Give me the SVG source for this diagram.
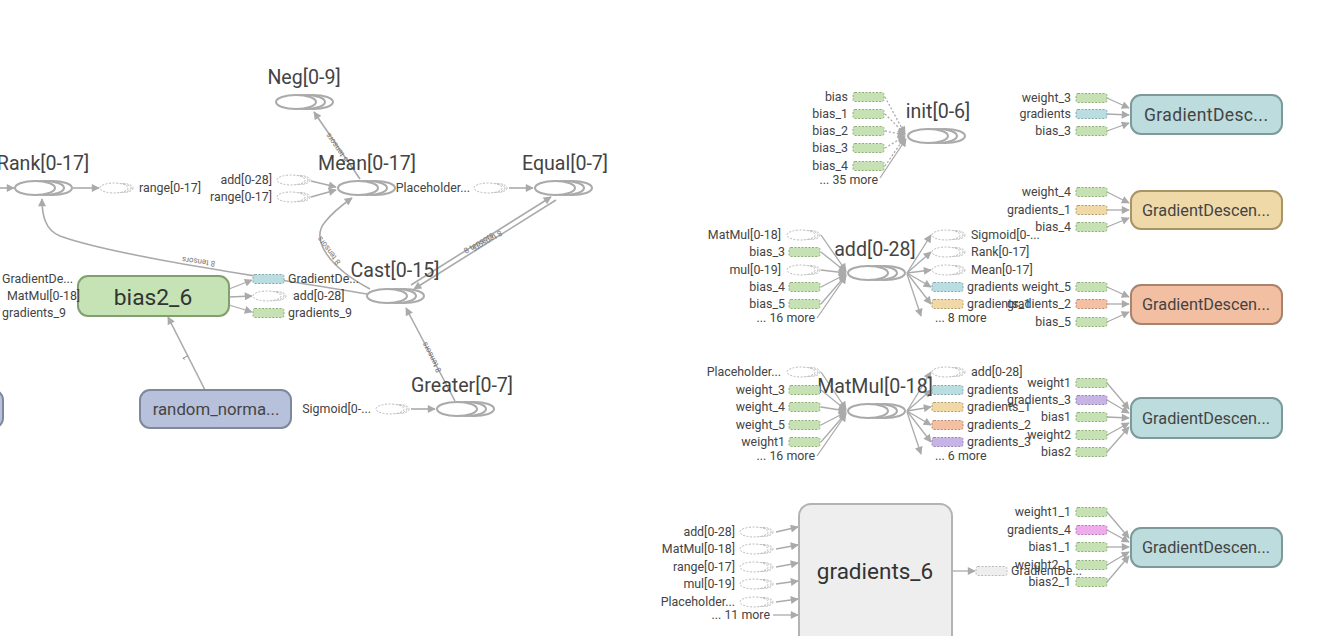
<svg xmlns="http://www.w3.org/2000/svg" width="1330" height="636" viewBox="0 0 1330 636">
<style>
text{font-family:Roboto,"Liberation Sans",sans-serif;fill:#444}
.lbl{font-size:19.6px;text-anchor:middle}
.at{font-size:12.4px}
.ar{text-anchor:end}
.el{font-size:8px;fill:#777;text-anchor:middle}
.big{font-size:22.8px;text-anchor:middle;fill:#333}
.gd{font-size:16.3px;text-anchor:middle;fill:#444}
.e{fill:none;stroke:#aaa;stroke-width:1.6}
.ea{fill:none;stroke:#aaa;stroke-width:1.3}
.ed{fill:none;stroke:#aaa;stroke-width:1.3;stroke-dasharray:2 2}
.teal{fill:#bcdcdd;stroke:#7d999a;stroke-width:2}
.tan{fill:#f0d9a9;stroke:#a99466;stroke-width:2}
.salm{fill:#f3bfa3;stroke:#a8836e;stroke-width:2}
</style>
<defs>
<marker id="ah" viewBox="0 0 10 10" refX="9" refY="5" markerWidth="10" markerHeight="8" markerUnits="userSpaceOnUse" orient="auto"><path d="M0,0 L10,5 L0,10 z" fill="#aaa"/></marker>
<g id="ser" fill="#fff" stroke="#aaa" stroke-width="2"><ellipse cx="17" cy="0" rx="20" ry="7"/><ellipse cx="9" cy="0" rx="20" ry="7"/><ellipse cx="0" cy="0" rx="20" ry="7"/></g>
<g id="ae" fill="#fff" stroke="#bbb" stroke-width="1" stroke-dasharray="2 1.5"><ellipse cx="23" cy="0" rx="10" ry="4.5"/><ellipse cx="19" cy="0" rx="12" ry="4.5"/><ellipse cx="14" cy="0" rx="14" ry="5"/></g>
<rect id="rg" x="0" y="-4.5" width="31" height="9" rx="2" fill="#c6e2b4" stroke="#8fae78" stroke-dasharray="2 1.5"/>
<rect id="rb" x="0" y="-4.5" width="31" height="9" rx="2" fill="#b9dde0" stroke="#83a9ac" stroke-dasharray="2 1.5"/>
<rect id="rt" x="0" y="-4.5" width="31" height="9" rx="2" fill="#f1d9a7" stroke="#b39b6a" stroke-dasharray="2 1.5"/>
<rect id="rs" x="0" y="-4.5" width="31" height="9" rx="2" fill="#f4bfa3" stroke="#b48a74" stroke-dasharray="2 1.5"/>
<rect id="rp" x="0" y="-4.5" width="31" height="9" rx="2" fill="#c6b5e4" stroke="#9484b4" stroke-dasharray="2 1.5"/>
<rect id="rk" x="0" y="-4.5" width="31" height="9" rx="2" fill="#eeacec" stroke="#b47cb2" stroke-dasharray="2 1.5"/>
<rect id="rx" x="0" y="-4.5" width="31" height="9" rx="2" fill="#eee" stroke="#bbb" stroke-dasharray="2 1.5"/>
</defs>

<g id="connectors">
<path class="e" d="M0,188 L14,188" marker-end="url(#ah)"/>
<path class="e" d="M73,188 L99,188" marker-end="url(#ah)"/>
<path class="e" d="M311,181 L336,187" marker-end="url(#ah)"/>
<path class="e" d="M311,197 L336,190" marker-end="url(#ah)"/>
<path class="e" d="M509,188 L533,188" marker-end="url(#ah)"/>
<path class="e" d="M411,409 L435,409" marker-end="url(#ah)"/>
<path class="e" d="M360,179 L314,112" marker-end="url(#ah)"/>
<path class="e" d="M370,289 C330,268 310,240 325,222 C333,212 342,205 352,198" marker-end="url(#ah)"/>
<path class="e" d="M411,285 L551,197" marker-end="url(#ah)"/>
<path class="e" d="M556,200 L414,289" marker-end="url(#ah)"/>
<path class="e" d="M455,401 L406,308" marker-end="url(#ah)"/>
<path class="e" d="M367,294 C300,282 120,258 60,236 C45,230 42,215 42,199" marker-end="url(#ah)"/>
<path class="e" d="M205,390 L168,317" marker-end="url(#ah)"/>
<path class="ea" d="M229,289 L252,280" marker-end="url(#ah)"/>
<path class="ea" d="M229,297 L252,296" marker-end="url(#ah)"/>
<path class="ea" d="M229,305 L252,312" marker-end="url(#ah)"/>
<text class="el" transform="translate(339,146) rotate(235.5)">8 tensors</text>
<text class="el" transform="translate(331,249) rotate(-127)">8 tensors</text>
<text class="el" transform="translate(480,245) rotate(-32.5)">8 tensors</text>
<text class="el" transform="translate(486,239) rotate(147.5)">8 tensors</text>
<text class="el" transform="translate(434,356) rotate(-117.8)">8 tensors</text>
<text class="el" transform="translate(199,259) rotate(188)">8 tensors</text>
<text class="el" transform="translate(188,356) rotate(-117)">1</text>

<path class="ed" d="M885,97 L905,134" marker-end="url(#ah)"/>
<path class="ed" d="M885,114 L905,134" marker-end="url(#ah)"/>
<path class="ed" d="M885,131 L905,135" marker-end="url(#ah)"/>
<path class="ed" d="M885,148 L905,136" marker-end="url(#ah)"/>
<path class="ed" d="M885,166 L905,137" marker-end="url(#ah)"/>
<path class="ea" d="M880,178 L906,139" marker-end="url(#ah)"/>

<path class="ea" d="M821,235 L846,271" marker-end="url(#ah)"/>
<path class="ea" d="M821,252 L846,272" marker-end="url(#ah)"/>
<path class="ea" d="M821,270 L846,273" marker-end="url(#ah)"/>
<path class="ea" d="M821,287 L846,274" marker-end="url(#ah)"/>
<path class="ea" d="M821,304 L846,275" marker-end="url(#ah)"/>
<path class="ea" d="M817,318 L846,276" marker-end="url(#ah)"/>
<path class="ea" d="M907,273 L931,235" marker-end="url(#ah)"/>
<path class="ea" d="M907,273 L931,252" marker-end="url(#ah)"/>
<path class="ea" d="M907,273 L931,270" marker-end="url(#ah)"/>
<path class="ea" d="M907,273 L931,287" marker-end="url(#ah)"/>
<path class="ea" d="M907,273 L931,304" marker-end="url(#ah)"/>
<path class="ea" d="M907,274 L921,316" marker-end="url(#ah)"/>

<path class="ea" d="M821,372 L846,409" marker-end="url(#ah)"/>
<path class="ea" d="M821,390 L846,410" marker-end="url(#ah)"/>
<path class="ea" d="M821,407 L846,411" marker-end="url(#ah)"/>
<path class="ea" d="M821,425 L846,412" marker-end="url(#ah)"/>
<path class="ea" d="M821,442 L846,413" marker-end="url(#ah)"/>
<path class="ea" d="M817,456 L846,414" marker-end="url(#ah)"/>
<path class="ea" d="M907,411 L931,372" marker-end="url(#ah)"/>
<path class="ea" d="M907,411 L931,390" marker-end="url(#ah)"/>
<path class="ea" d="M907,411 L931,407" marker-end="url(#ah)"/>
<path class="ea" d="M907,411 L931,425" marker-end="url(#ah)"/>
<path class="ea" d="M907,411 L931,442" marker-end="url(#ah)"/>
<path class="ea" d="M907,412 L921,454" marker-end="url(#ah)"/>

<path class="ea" d="M1107,98 L1129,108" marker-end="url(#ah)"/>
<path class="ea" d="M1107,114 L1129,115" marker-end="url(#ah)"/>
<path class="ea" d="M1107,131 L1129,123" marker-end="url(#ah)"/>
<path class="ea" d="M1107,192 L1129,203" marker-end="url(#ah)"/>
<path class="ea" d="M1107,210 L1129,210" marker-end="url(#ah)"/>
<path class="ea" d="M1107,227 L1129,218" marker-end="url(#ah)"/>
<path class="ea" d="M1107,287 L1129,297" marker-end="url(#ah)"/>
<path class="ea" d="M1107,304 L1129,304" marker-end="url(#ah)"/>
<path class="ea" d="M1107,322 L1129,312" marker-end="url(#ah)"/>
<path class="ea" d="M1107,383 L1129,409" marker-end="url(#ah)"/>
<path class="ea" d="M1107,400 L1129,413" marker-end="url(#ah)"/>
<path class="ea" d="M1107,417 L1129,418" marker-end="url(#ah)"/>
<path class="ea" d="M1107,435 L1129,423" marker-end="url(#ah)"/>
<path class="ea" d="M1107,452 L1129,427" marker-end="url(#ah)"/>
<path class="ea" d="M1107,512 L1129,538" marker-end="url(#ah)"/>
<path class="ea" d="M1107,530 L1129,542" marker-end="url(#ah)"/>
<path class="ea" d="M1107,547 L1129,547" marker-end="url(#ah)"/>
<path class="ea" d="M1107,565 L1129,552" marker-end="url(#ah)"/>
<path class="ea" d="M1107,582 L1129,556" marker-end="url(#ah)"/>

<path class="ea" d="M776,532 L798,527" marker-end="url(#ah)"/>
<path class="ea" d="M776,549 L798,545" marker-end="url(#ah)"/>
<path class="ea" d="M776,567 L798,563" marker-end="url(#ah)"/>
<path class="ea" d="M776,584 L798,581" marker-end="url(#ah)"/>
<path class="ea" d="M776,602 L798,599" marker-end="url(#ah)"/>
<path class="ea" d="M773,615 L798,615" marker-end="url(#ah)"/>
<path class="ea" d="M952,571 L975,571" marker-end="url(#ah)"/>
</g>

<g id="node-rank">
<text class="lbl" x="43" y="170">Rank[0-17]</text>
<use href="#ser" x="35" y="188"/>
<use href="#ae" x="100" y="188"/>
<text class="at" x="139" y="192">range[0-17]</text>
</g>
<g id="node-neg">
<text class="lbl" x="304" y="84">Neg[0-9]</text>
<use href="#ser" x="296" y="102"/>
</g>
<g id="node-mean">
<text class="lbl" x="367" y="170">Mean[0-17]</text>
<use href="#ser" x="358" y="188"/>
<use href="#ae" x="277" y="180"/>
<text class="at ar" x="272" y="184">add[0-28]</text>
<use href="#ae" x="277" y="197"/>
<text class="at ar" x="272" y="201">range[0-17]</text>
</g>
<g id="node-equal">
<text class="lbl" x="565" y="170">Equal[0-7]</text>
<use href="#ser" x="555" y="188"/>
<use href="#ae" x="474" y="188"/>
<text class="at ar" x="470" y="192">Placeholder...</text>
</g>
<g id="node-cast">
<text class="lbl" x="395" y="277">Cast[0-15]</text>
<use href="#ser" x="387" y="296"/>
</g>
<g id="node-greater">
<text class="lbl" x="462" y="392">Greater[0-7]</text>
<use href="#ser" x="457" y="409"/>
<use href="#ae" x="376" y="409"/>
<text class="at ar" x="371" y="413">Sigmoid[0-...</text>
</g>
<g id="node-bias2_6">
<rect x="78" y="276" width="151" height="40" rx="10" fill="#c5e3b5" stroke="#82a06e" stroke-width="2"/>
<text class="big" x="153" y="305">bias2_6</text>
<use href="#rb" x="253" y="279"/>
<text class="at" x="288" y="283">GradientDe...</text>
<use href="#ae" x="253" y="296"/>
<text class="at" x="293" y="300">add[0-28]</text>
<use href="#rg" x="253" y="313"/>
<text class="at" x="288" y="317">gradients_9</text>
</g>
<g id="node-left-offscreen">
<rect x="-148" y="390" width="151" height="38" rx="10" fill="#b7c1db" stroke="#7f889c" stroke-width="2"/>
<text class="at" x="2" y="283">GradientDe...</text>
<text class="at" x="7" y="300">MatMul[0-18]</text>
<text class="at" x="2" y="317">gradients_9</text>
</g>
<g id="node-random_normal">
<rect x="140" y="390" width="151" height="38" rx="10" fill="#b7c1db" stroke="#7f889c" stroke-width="2"/>
<text class="gd" x="216" y="415" style="font-size:16.8px">random_norma...</text>
</g>

<g id="node-init">
<text class="lbl" x="938" y="118">init[0-6]</text>
<use href="#ser" x="928" y="136"/>
<use href="#rg" x="853" y="97"/><text class="at ar" x="848" y="101">bias</text>
<use href="#rg" x="853" y="114"/><text class="at ar" x="848" y="118">bias_1</text>
<use href="#rg" x="853" y="131"/><text class="at ar" x="848" y="135">bias_2</text>
<use href="#rg" x="853" y="148"/><text class="at ar" x="848" y="152">bias_3</text>
<use href="#rg" x="853" y="166"/><text class="at ar" x="848" y="170">bias_4</text>
<text class="at ar" x="878" y="184">... 35 more</text>
</g>

<g id="node-add">
<text class="lbl" x="875" y="256">add[0-28]</text>
<use href="#ser" x="868" y="273"/>
<use href="#ae" x="787" y="235"/><text class="at ar" x="781" y="239">MatMul[0-18]</text>
<use href="#rg" x="789" y="252"/><text class="at ar" x="785" y="256">bias_3</text>
<use href="#ae" x="787" y="270"/><text class="at ar" x="781" y="274">mul[0-19]</text>
<use href="#rg" x="789" y="287"/><text class="at ar" x="785" y="291">bias_4</text>
<use href="#rg" x="789" y="304"/><text class="at ar" x="785" y="308">bias_5</text>
<text class="at ar" x="815" y="322">... 16 more</text>
<use href="#ae" x="932" y="235"/><text class="at" x="971" y="239">Sigmoid[0-...</text>
<use href="#ae" x="932" y="252"/><text class="at" x="971" y="256">Rank[0-17]</text>
<use href="#ae" x="932" y="270"/><text class="at" x="971" y="274">Mean[0-17]</text>
<use href="#rb" x="932" y="287"/><text class="at" x="967" y="291">gradients</text>
<use href="#rt" x="932" y="304"/><text class="at" x="967" y="308">gradients_1</text>
<text class="at" x="935" y="322">... 8 more</text>
</g>

<g id="node-matmul">
<text class="lbl" x="875" y="393">MatMul[0-18]</text>
<use href="#ser" x="868" y="411"/>
<use href="#ae" x="787" y="372"/><text class="at ar" x="781" y="376">Placeholder...</text>
<use href="#rg" x="789" y="390"/><text class="at ar" x="785" y="394">weight_3</text>
<use href="#rg" x="789" y="407"/><text class="at ar" x="785" y="411">weight_4</text>
<use href="#rg" x="789" y="425"/><text class="at ar" x="785" y="429">weight_5</text>
<use href="#rg" x="789" y="442"/><text class="at ar" x="785" y="446">weight1</text>
<text class="at ar" x="815" y="460">... 16 more</text>
<use href="#ae" x="932" y="372"/><text class="at" x="971" y="376">add[0-28]</text>
<use href="#rb" x="932" y="390"/><text class="at" x="967" y="394">gradients</text>
<use href="#rt" x="932" y="407"/><text class="at" x="967" y="411">gradients_1</text>
<use href="#rs" x="932" y="425"/><text class="at" x="967" y="429">gradients_2</text>
<use href="#rp" x="932" y="442"/><text class="at" x="967" y="446">gradients_3</text>
<text class="at" x="935" y="460">... 6 more</text>
</g>

<g id="node-gd1">
<rect class="teal" x="1131" y="95" width="151" height="39" rx="10"/>
<text class="gd" x="1206" y="121" style="font-size:17.5px" textLength="124" lengthAdjust="spacing">GradientDesc...</text>
<use href="#rg" x="1076" y="98"/><text class="at ar" x="1071" y="102">weight_3</text>
<use href="#rb" x="1076" y="114"/><text class="at ar" x="1071" y="118">gradients</text>
<use href="#rg" x="1076" y="131"/><text class="at ar" x="1071" y="135">bias_3</text>
</g>
<g id="node-gd2">
<rect class="tan" x="1131" y="191" width="151" height="38" rx="10"/>
<text class="gd" x="1206" y="216">GradientDescen...</text>
<use href="#rg" x="1076" y="192"/><text class="at ar" x="1071" y="196">weight_4</text>
<use href="#rt" x="1076" y="210"/><text class="at ar" x="1071" y="214">gradients_1</text>
<use href="#rg" x="1076" y="227"/><text class="at ar" x="1071" y="231">bias_4</text>
</g>
<g id="node-gd3">
<rect class="salm" x="1131" y="285" width="151" height="39" rx="10"/>
<text class="gd" x="1206" y="310">GradientDescen...</text>
<use href="#rg" x="1076" y="287"/><text class="at ar" x="1071" y="291">weight_5</text>
<use href="#rs" x="1076" y="304"/><text class="at ar" x="1071" y="308">gradients_2</text>
<use href="#rg" x="1076" y="322"/><text class="at ar" x="1071" y="326">bias_5</text>
</g>
<g id="node-gd4">
<rect class="teal" x="1131" y="398" width="151" height="40" rx="10"/>
<text class="gd" x="1206" y="424">GradientDescen...</text>
<use href="#rg" x="1076" y="383"/><text class="at ar" x="1071" y="387">weight1</text>
<use href="#rp" x="1076" y="400"/><text class="at ar" x="1071" y="404">gradients_3</text>
<use href="#rg" x="1076" y="417"/><text class="at ar" x="1071" y="421">bias1</text>
<use href="#rg" x="1076" y="435"/><text class="at ar" x="1071" y="439">weight2</text>
<use href="#rg" x="1076" y="452"/><text class="at ar" x="1071" y="456">bias2</text>
</g>
<g id="node-gd5">
<rect class="teal" x="1131" y="528" width="151" height="39" rx="10"/>
<text class="gd" x="1206" y="553">GradientDescen...</text>
<use href="#rg" x="1076" y="512"/><text class="at ar" x="1071" y="516">weight1_1</text>
<use href="#rk" x="1076" y="530"/><text class="at ar" x="1071" y="534">gradients_4</text>
<use href="#rg" x="1076" y="547"/><text class="at ar" x="1071" y="551">bias1_1</text>
<use href="#rg" x="1076" y="565"/><text class="at ar" x="1071" y="569">weight2_1</text>
<use href="#rg" x="1076" y="582"/><text class="at ar" x="1071" y="586">bias2_1</text>
</g>

<g id="node-gradients_6">
<rect x="799" y="504" width="153" height="160" rx="12" fill="#eee" stroke="#b3b3b3" stroke-width="2"/>
<text class="big" x="875" y="579" style="font-size:22.5px">gradients_6</text>
<use href="#ae" x="740" y="532"/><text class="at ar" x="735" y="536">add[0-28]</text>
<use href="#ae" x="740" y="549"/><text class="at ar" x="735" y="553">MatMul[0-18]</text>
<use href="#ae" x="740" y="567"/><text class="at ar" x="735" y="571">range[0-17]</text>
<use href="#ae" x="740" y="584"/><text class="at ar" x="735" y="588">mul[0-19]</text>
<use href="#ae" x="740" y="602"/><text class="at ar" x="735" y="606">Placeholder...</text>
<text class="at ar" x="770" y="619">... 11 more</text>
<use href="#rx" x="976" y="571"/><text class="at" x="1011" y="575">GradientDe...</text>
</g>
</svg>
